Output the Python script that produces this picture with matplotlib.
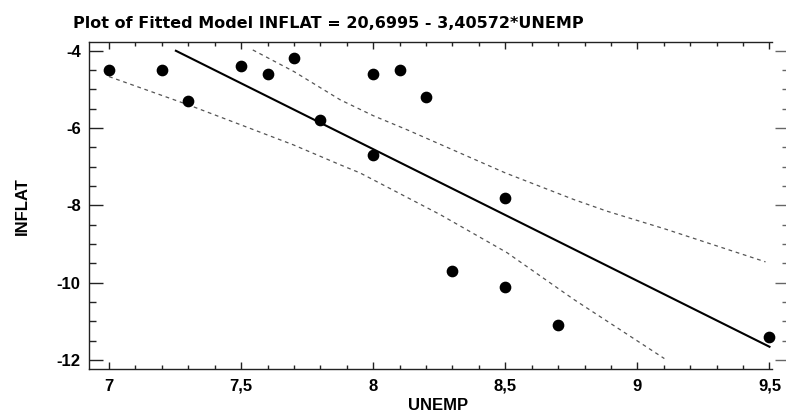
import numpy as np
import matplotlib
matplotlib.use('Agg')
import matplotlib.pyplot as plt
from matplotlib.ticker import MultipleLocator, FuncFormatter

plt.rcParams['font.family'] = ['Liberation Sans', 'DejaVu Sans']
plt.rcParams['font.weight'] = 'bold'

# donnees
unemp = [7.0, 7.2, 7.3, 7.5, 7.6, 7.7, 7.8, 8.0, 8.1, 8.2, 8.0, 8.5, 8.3, 8.5, 8.7, 9.5]
inflat = [-4.5, -4.5, -5.3, -4.4, -4.6, -4.2, -5.8, -4.6, -4.5, -5.2, -6.7, -7.8, -9.7, -10.1, -11.1, -11.4]

# modele ajuste (titre)
intercept = 20.6995
slope = -3.40572
line_x = [7.2529, 9.5]

# bandes
upper_x = [7.544, 7.70, 7.875, 8.0, 8.13, 8.5, 8.76, 8.885, 9.105, 9.485]
upper_y = [-3.98, -4.54, -5.27, -5.68, -6.05, -7.16, -7.85, -8.15, -8.61, -9.46]
lower_x = [7.0, 7.30, 7.696, 7.875, 7.95, 8.254, 8.506, 8.759, 9.102]
lower_y = [-4.67, -5.40, -6.43, -6.95, -7.16, -8.24, -9.22, -10.43, -11.96]

W, H = 786, 412
fig = plt.figure(figsize=(W / 100, H / 100), dpi=100)
ax = fig.add_axes([89 / W, 1 - 369 / H, (771.6 - 89) / W, (369 - 42) / H])

lx = np.array(line_x)
ax.plot(lx, intercept + slope * lx, color='black', lw=1.5)
ax.plot(upper_x, upper_y, color='#555555', lw=0.9, linestyle=(0, (3, 3)))
ax.plot(lower_x, lower_y, color='#555555', lw=0.9, linestyle=(0, (3, 3)))
ax.scatter(unemp, inflat, s=55, color='black', zorder=3, clip_on=False)

ax.set_xlim(6.924, 9.508)
ax.set_ylim(-12.23, -3.775)

comma = FuncFormatter(lambda v, p: ('%g' % v).replace('.', ','))
ax.xaxis.set_major_locator(MultipleLocator(0.5))
ax.xaxis.set_minor_locator(MultipleLocator(0.1))
ax.yaxis.set_major_locator(MultipleLocator(2))
ax.yaxis.set_minor_locator(MultipleLocator(0.5))
ax.xaxis.set_major_formatter(comma)
ax.yaxis.set_major_formatter(comma)

ax.tick_params(axis='x', which='major', direction='in', length=5, width=1,
               top=True, labelsize=12, pad=7, colors='#222222', labelcolor='black')
ax.tick_params(axis='x', which='minor', direction='in', length=3, width=1,
               top=True, colors='#222222')
ax.tick_params(axis='y', which='major', direction='in', length=10, width=1,
               labelsize=12, pad=6, colors='#222222', labelcolor='black')
ax.tick_params(axis='y', which='minor', direction='in', length=5, width=1,
               colors='#222222')
ax.spines['right'].set_visible(False)
for s in ['left', 'top', 'bottom']:
    ax.spines[s].set_color('#222222')
    ax.spines[s].set_linewidth(1)

# graduations de droite (axe coupe par le bord de l'image)
sec = ax.secondary_yaxis(700 / 682.6)
sec.spines['right'].set_visible(False)
sec.set_yticks([-4, -6, -8, -10, -12])
sec.yaxis.set_minor_locator(MultipleLocator(0.5))
sec.tick_params(which='major', direction='in', length=10, width=1, labelright=False, colors='#666666')
sec.tick_params(which='minor', direction='in', length=5, width=1, colors='#666666')

fig.text(73 / W, 1 - 28 / H, 'Plot of Fitted Model INFLAT = 20,6995 - 3,40572*UNEMP',
         fontsize=11.5, fontweight='bold', family=['DejaVu Sans'], ha='left', va='baseline')
fig.text(22 / W, 1 - 206 / H, 'INFLAT', rotation=90, fontsize=12, fontweight='bold',
         ha='center', va='center')
fig.text(438 / W, 1 - 398 / H, 'UNEMP', fontsize=12, fontweight='bold',
         ha='center', va='top')

fig.savefig('out.png', dpi=100)
